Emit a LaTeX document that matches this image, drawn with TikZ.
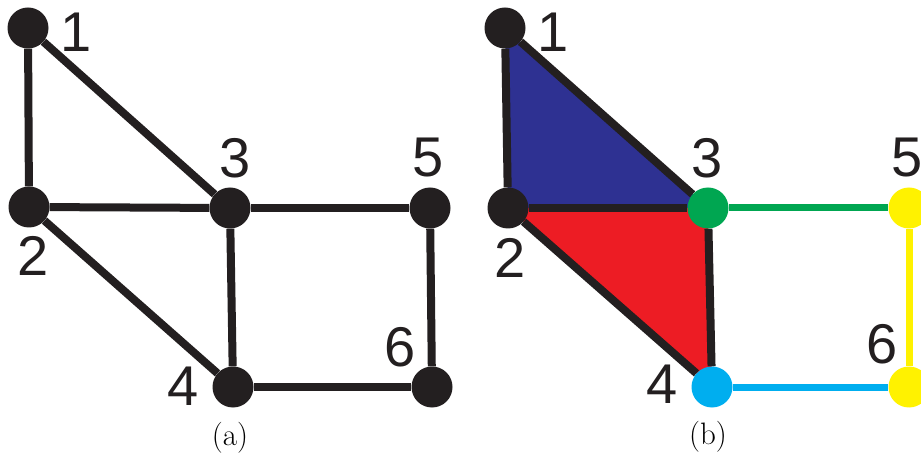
\documentclass[tikz,border=0pt]{standalone}
\usepackage{fontspec}
\usepackage{tikz}
\usetikzlibrary{backgrounds}
\newfontfamily\cifra{Liberation Sans}
\definecolor{tinta}{HTML}{231F20}
\definecolor{azul}{HTML}{2E3192}
\definecolor{rojo}{HTML}{ED1C24}
\definecolor{verde}{HTML}{00A651}
\definecolor{cian}{HTML}{00AEEF}
\definecolor{amarillo}{HTML}{FFF200}

\begin{document}
\begin{tikzpicture}[x=1pt,y=-1pt,
  vertice/.style={circle,fill=#1,minimum size=41pt,inner sep=0pt},
  vertice/.default=tinta,
  arista/.style={line width=8pt,draw=#1},
  arista/.default=tinta,
  num/.style={font=\cifra\fontsize{56}{56}\selectfont,inner sep=0pt,text=tinta},
  pie/.style={font=\fontsize{31}{36}\selectfont,inner sep=0pt}]
\useasboundingbox (0,0) rectangle (921,454);
% (a) grafo
\foreach \n/\x/\y in {1/28/28, 2/29/207, 3/230/208, 5/430/208, 4/233/387, 6/432/387}{
  \node[vertice] (a\n) at (\x,\y) {};
}
\foreach \n/\x/\y in {1/76/32, 2/33/256, 3/235/158, 5/428/158, 4/183/386, 6/400/347}{
  \node[num] (na\n) at (\x,\y) {\n};
}
\begin{scope}[on background layer]
\foreach \u/\v in {1/2, 1/3, 2/3, 3/5, 2/4, 3/4, 4/6, 5/6}{
  \draw[arista] (a\u) -- (a\v);
}
\end{scope}
\node[pie] (capa) at (230,438) {(a)};
% (b) grafo coloreado
\foreach \n/\x/\y/\c in {1/505/28/tinta, 2/508/208/tinta, 3/708/208/verde, 5/909/208/amarillo, 4/712/387/cian, 6/909/387/amarillo}{
  \node[vertice=\c] (b\n) at (\x,\y) {};
}
\foreach \n/\x/\y in {1/553/32, 2/510/258, 3/707/158, 5/907/158, 4/662/384, 6/882/344}{
  \node[num] (nb\n) at (\x,\y) {\n};
}
\begin{scope}[on background layer]
\fill[azul] (b1.center) -- (b2.center) -- (b3.center) -- cycle;
\fill[rojo] (b2.center) -- (b3.center) -- (b4.center) -- cycle;
\foreach \u/\v in {1/2, 1/3, 2/3, 2/4, 3/4}{
  \draw[arista] (b\u) -- (b\v);
}
\draw[arista=verde,line width=7pt] (b3) -- (b5);
\draw[arista=amarillo,line width=7pt] (b5) -- (b6);
\draw[arista=cian,line width=7pt] (b4) -- (b6);
\end{scope}
\node[pie] (capb) at (708,437) {(b)};
\end{tikzpicture}
\end{document}
